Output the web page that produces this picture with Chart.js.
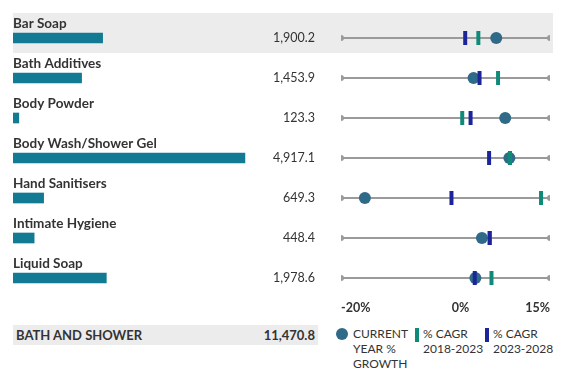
<!DOCTYPE html>
<html>
<head>
<meta charset="utf-8">
<script src="https://cdn.jsdelivr.net/npm/chart.js@4/dist/chart.umd.min.js"></script>
<style>
  body { margin: 0; background: #fff; font-family: Lato, sans-serif; color: #333; }
  #wrap { position: relative; width: 570px; height: 379px; overflow: hidden; }
  #barChart { position: absolute; left: 0; top: 0; }
  #dotChart { position: absolute; left: 330px; top: 0; }
  #total { position: absolute; left: 13px; top: 325px; width: 305px; height: 20px; background: #ececec;
           font-weight: bold; font-size: 13px; line-height: 21px; }
  #total .name { position: absolute; left: 3px; }
  #total .val { position: absolute; right: 3px; }
  .leg { position: absolute; font-size: 12px; line-height: 15px; top: 326px; }
  .mark { position: absolute; }
</style>
</head>
<body>
<div id="wrap">
  <canvas id="barChart" width="330" height="300"></canvas>
  <canvas id="dotChart" width="240" height="312"></canvas>
  <div id="total"><span class="name"></span><span class="val"></span></div>
  <span class="mark" style="left:336px;top:328px;width:12px;height:12px;border-radius:50%;background:#2f6a88"></span>
  <div class="leg" id="leg1" style="left:353px"></div>
  <span class="mark" style="left:415px;top:328px;width:4px;height:14px;background:#108a78"></span>
  <div class="leg" id="leg2" style="left:423px"></div>
  <span class="mark" style="left:485px;top:328px;width:4px;height:14px;background:#1c2499"></span>
  <div class="leg" id="leg3" style="left:493px"></div>
</div>
<script>
const categories = ['Bar Soap', 'Bath Additives', 'Body Powder', 'Body Wash/Shower Gel', 'Hand Sanitisers', 'Intimate Hygiene', 'Liquid Soap'];
const marketSize = [1900.2, 1453.9, 123.3, 4917.1, 649.3, 448.4, 1978.6];
const currentGrowth = [6.0, 2.2, 7.5, 8.2, -16.0, 3.6, 2.5];
const cagr1823 = [3.0, 6.3, 0.3, 8.3, 13.5, 4.9, 5.2];
const cagr2328 = [0.8, 3.2, 1.7, 4.8, -1.5, 4.9, 2.4];
const growthTicks = [-20, 0, 15];
const totalLabel = 'BATH AND SHOWER';
const totalValue = 11470.8;
const legendLabels = ['CURRENT<br>YEAR %<br>GROWTH', '% CAGR<br>2018-2023', '% CAGR<br>2023-2028'];
const highlightRow = 0;

const fmt = v => v.toLocaleString('en-US', { minimumFractionDigits: 1, maximumFractionDigits: 1 });

document.querySelector('#total .name').textContent = totalLabel;
document.querySelector('#total .val').textContent = fmt(totalValue);
document.getElementById('leg1').innerHTML = legendLabels[0];
document.getElementById('leg2').innerHTML = legendLabels[1];
document.getElementById('leg3').innerHTML = legendLabels[2];

// grey band behind the highlighted row
function drawBand(chart, x1, x2) {
    const y = chart.scales.y.getPixelForValue(highlightRow);
    const ctx = chart.ctx;
    ctx.save();
    ctx.fillStyle = '#ececec';
    ctx.fillRect(x1, y - 25, x2 - x1, 40);
    ctx.restore();
}

const barPlugin = {
    id: 'barLabels',
    beforeDatasetsDraw(chart) {
        drawBand(chart, chart.chartArea.left, chart.width);
    },
    afterDatasetsDraw(chart) {
        const ctx = chart.ctx;
        const yScale = chart.scales.y;
        ctx.save();
        ctx.fillStyle = '#333';
        categories.forEach((c, i) => {
            const y = yScale.getPixelForValue(i);
            ctx.font = 'bold 13.5px Lato';
            ctx.textAlign = 'left';
            ctx.textBaseline = 'alphabetic';
            ctx.fillText(c, chart.chartArea.left, y - 10);
            ctx.font = '12.5px Lato';
            ctx.textAlign = 'right';
            ctx.fillText(fmt(marketSize[i]), 315, y + 4);
        });
        ctx.restore();
    }
};

new Chart(document.getElementById('barChart'), {
    type: 'bar',
    data: {
        labels: categories,
        datasets: [{
            data: marketSize,
            backgroundColor: '#127b93',
            barThickness: 10,
            borderWidth: 0
        }]
    },
    options: {
        responsive: false,
        animation: false,
        events: [],
        indexAxis: 'y',
        layout: { padding: { left: 13, right: 34, top: 18, bottom: 2 } },
        plugins: { legend: { display: false }, tooltip: { enabled: false } },
        scales: {
            x: { display: false, min: 0, max: 6000 },
            y: { display: false, offset: true }
        }
    },
    plugins: [barPlugin]
});

const dotPlugin = {
    id: 'dotBand',
    beforeDatasetsDraw(chart) {
        drawBand(chart, 0, chart.chartArea.right + 3);
    }
};

const rangeSets = categories.map(c => ({
    data: [{ x: growthTicks[0], y: c }, { x: growthTicks[growthTicks.length - 1], y: c }],
    showLine: true,
    borderColor: '#9a9a9a',
    borderWidth: 2,
    pointRadius: 3,
    pointBackgroundColor: '#9a9a9a',
    pointBorderWidth: 0,
    order: 4
}));

const tickStyle = { pointStyle: 'line', rotation: 90, pointRadius: 7, pointBorderWidth: 4 };

new Chart(document.getElementById('dotChart'), {
    type: 'scatter',
    data: {
        datasets: [
            ...rangeSets,
            {
                data: categories.map((c, i) => ({ x: currentGrowth[i], y: c })),
                pointRadius: 6,
                pointBackgroundColor: '#2f6a88',
                pointBorderWidth: 0,
                order: 3
            },
            Object.assign({
                data: categories.map((c, i) => ({ x: cagr1823[i], y: c })),
                borderColor: '#108a78',
                pointBorderColor: '#108a78',
                order: 2
            }, tickStyle),
            Object.assign({
                data: categories.map((c, i) => ({ x: cagr2328[i], y: c })),
                borderColor: '#1c2499',
                pointBorderColor: '#1c2499',
                order: 1
            }, tickStyle)
        ]
    },
    options: {
        responsive: false,
        animation: false,
        events: [],
        layout: { padding: { left: 10, right: 20, top: 18, bottom: 0 } },
        plugins: { legend: { display: false }, tooltip: { enabled: false } },
        scales: {
            x: {
                type: 'linear',
                min: growthTicks[0],
                max: growthTicks[growthTicks.length - 1],
                grid: { display: false, drawTicks: false },
                border: { display: false },
                afterBuildTicks: s => { s.ticks = growthTicks.map(v => ({ value: v })); },
                afterFit: s => { s.height = 14; },
                ticks: {
                    align: 'inner',
                    padding: 2,
                    maxRotation: 0,
                    autoSkip: false,
                    color: '#333',
                    font: { family: 'Lato', weight: 'bold', size: 12.5 },
                    callback: v => v + '%'
                }
            },
            y: { type: 'category', labels: categories, display: false, offset: true }
        }
    },
    plugins: [dotPlugin]
});
</script>
</body>
</html>
